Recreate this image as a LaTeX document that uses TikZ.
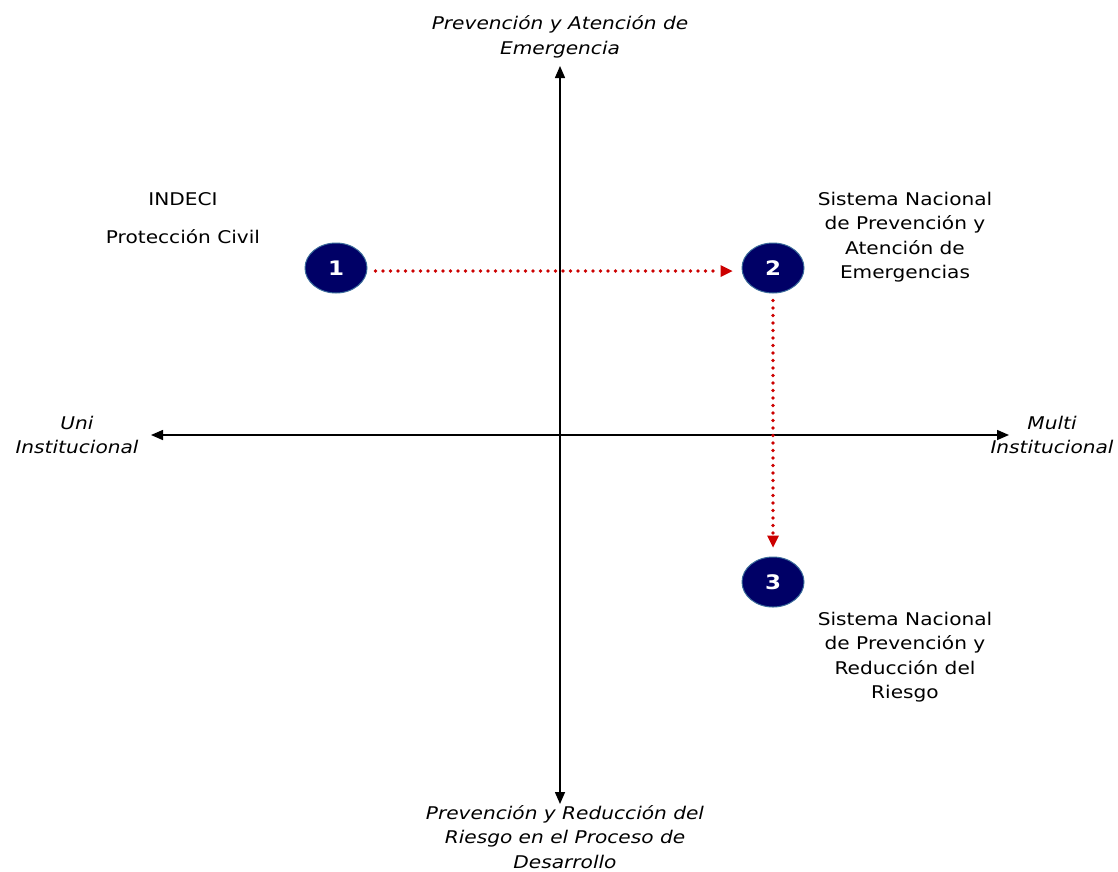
\documentclass[tikz,border=0pt]{standalone}
\usepackage{fontspec}
\setmainfont[FakeStretch=1.15]{DejaVu Sans}
\usetikzlibrary{arrows.meta,shapes.geometric}
\definecolor{navy}{HTML}{000066}
\definecolor{rim}{HTML}{3A6B9A}
\definecolor{dotred}{HTML}{CC0000}
\tikzset{
  axis/.style={line width=1.5pt, {Triangle[length=12pt,width=10pt]}-{Triangle[length=12pt,width=10pt]}},
  stage/.style={ellipse, fill=navy, draw=rim, line width=1pt, minimum width=62pt, minimum height=50pt,
    inner sep=0pt, text=white, font=\fontsize{20}{24}\selectfont\bfseries},
  flow/.style={dotred, line width=3.8pt, line cap=round, dash pattern=on 0pt off 7.5pt,
    -{Triangle[length=12pt,width=12pt,line width=0pt]}},
  lbl/.style={align=center, font=\fontsize{17.5}{24.5}\selectfont, inner sep=0pt},
  axlbl/.style={align=center, font=\fontsize{17.5}{24.5}\selectfont\itshape, inner sep=0pt}
}
\begin{document}
\begin{tikzpicture}[x=1pt,y=-1pt]
  \useasboundingbox (0,0) rectangle (1118,871);
  % axes
  \coordinate (L) at (151,435);
  \coordinate (R) at (1009,435);
  \coordinate (T) at (560,66);
  \coordinate (B) at (560,804);
  \draw[axis] (L) -- (R);
  \draw[axis] (T) -- (B);
  % axis captions
  \node[axlbl] (top) at (560,37) {Prevención y Atención de\\Emergencia};
  \node[axlbl] (bot) at (565,837) {Prevención y Reducción del\\Riesgo en el Proceso de\\Desarrollo};
  \node[axlbl] (uni) at (77,435) {Uni\\Institucional};
  \node[axlbl] (multi) at (1052,435) {Multi\\Institucional};
  % stages
  \node[stage] (s1) at (336,268) {1};
  \node[stage] (s2) at (773,268) {2};
  \node[stage] (s3) at (773,582) {3};
  % stage captions
  \node[lbl] (indeci) at (183,199) {INDECI};
  \node[lbl] (pc) at (183,237) {Protección Civil};
  \node[lbl] (sn1) at (905,237) {Sistema Nacional\\de Prevención y\\Atención de\\Emergencias};
  \node[lbl] (sn2) at (905,657) {Sistema Nacional\\de Prevención y\\Reducción del\\Riesgo};
  % transitions
  \draw[flow] ([xshift=8pt,yshift=-3pt]s1.east) -- ([xshift=-9pt,yshift=-3pt]s2.west);
  \draw[flow] ([yshift=-7pt]s2.south) -- ([yshift=9pt]s3.north);
\end{tikzpicture}
\end{document}
